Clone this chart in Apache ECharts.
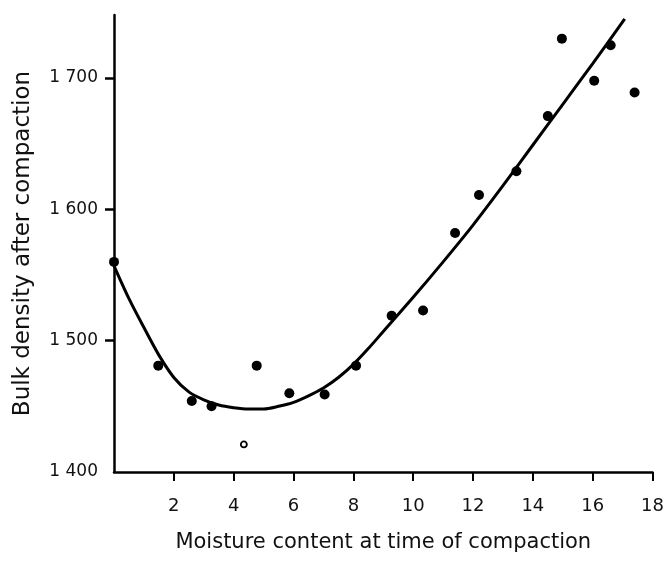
<!DOCTYPE html>
<html>
<head>
<meta charset="utf-8">
<script src="https://cdn.jsdelivr.net/npm/echarts@6/dist/echarts.min.js"></script>
<style>
  html, body { margin: 0; padding: 0; background: #fff; }
  #chart { width: 667px; height: 561px; }
</style>
</head>
<body>
<div id="chart"></div>
<script>
// measured points (moisture %, bulk density)
const moisture = [0, 1.48, 2.6, 3.26, 4.77, 5.86, 7.04, 8.09, 9.28, 10.33, 11.4, 12.2, 13.45, 14.5, 14.97, 16.05, 16.6, 17.4]
const density = [1560, 1481, 1454, 1450, 1481, 1460, 1459, 1481, 1519, 1523, 1582, 1611, 1629, 1671, 1730, 1698, 1725, 1689]

// the open circle
const outlierX = [4.34]
const outlierY = [1421]

// fitted curve
const curveX = [0, 0.5, 1, 1.5, 2, 2.5, 3, 3.5, 4, 4.5, 5, 5.5, 6, 6.5, 7, 7.5, 8, 8.5, 9, 10, 11, 12, 13, 14, 15, 16, 17.07]
const curveY = [1557, 1532, 1510, 1489, 1472, 1461, 1455, 1451, 1449, 1448, 1448, 1450, 1453, 1458, 1464, 1472, 1482, 1494, 1507, 1533, 1560, 1588, 1618, 1649, 1680, 1711, 1745]

const xTicks = [2, 4, 6, 8, 10, 12, 14, 16, 18]
const yTicks = [1500, 1600, 1700]
const yLabels = [1400, 1500, 1600, 1700]

const font = '"DejaVu Sans", sans-serif'
const zip = (a, b) => a.map((v, i) => [v, b[i]])

const chart = echarts.init(document.getElementById('chart'))
chart.setOption({
  animation: false,
  backgroundColor: '#fff',
  grid: {
    left: 114,
    right: 5,
    top: 15,
    bottom: 89
  },
  xAxis: {
    type: 'value',
    min: 0,
    max: 18,
    interval: 2,
    name: 'Moisture content at time of compaction',
    nameLocation: 'middle',
    nameGap: 60,
    nameTextStyle: { color: '#111', fontSize: 21, fontFamily: font },
    axisLine: { lineStyle: { color: '#000', width: 2.5 } },
    axisTick: {
      customValues: xTicks,
      length: 9,
      lineStyle: { color: '#000', width: 2 }
    },
    axisLabel: {
      customValues: xTicks,
      margin: 25,
      color: '#111',
      fontSize: 18,
      fontFamily: font
    },
    splitLine: { show: false }
  },
  yAxis: {
    type: 'value',
    min: 1400,
    max: 1748,
    interval: 100,
    name: 'Bulk density after compaction',
    nameLocation: 'middle',
    nameGap: 79,
    nameTextStyle: { color: '#111', fontSize: 23, fontFamily: font },
    axisLine: { lineStyle: { color: '#000', width: 2.5 } },
    axisTick: {
      customValues: yTicks,
      length: 9,
      lineStyle: { color: '#000', width: 2.5 }
    },
    axisLabel: {
      customValues: yLabels,
      margin: 16,
      color: '#111',
      fontSize: 17,
      fontFamily: font,
      formatter: v => String(v).replace(/(\d)(\d{3})$/, '$1 $2')
    },
    splitLine: { show: false }
  },
  series: [
    {
      type: 'line',
      data: zip(curveX, curveY),
      smooth: 0.3,
      showSymbol: false,
      lineStyle: { color: '#000', width: 3 },
      z: 2
    },
    {
      type: 'scatter',
      data: zip(moisture, density),
      symbol: 'circle',
      symbolSize: 10,
      itemStyle: { color: '#000', opacity: 1 },
      z: 3
    },
    {
      type: 'scatter',
      data: zip(outlierX, outlierY),
      symbol: 'circle',
      symbolSize: 6,
      itemStyle: { color: '#fff', borderColor: '#000', borderWidth: 1.8, opacity: 1 },
      z: 3
    }
  ]
})
</script>
</body>
</html>
